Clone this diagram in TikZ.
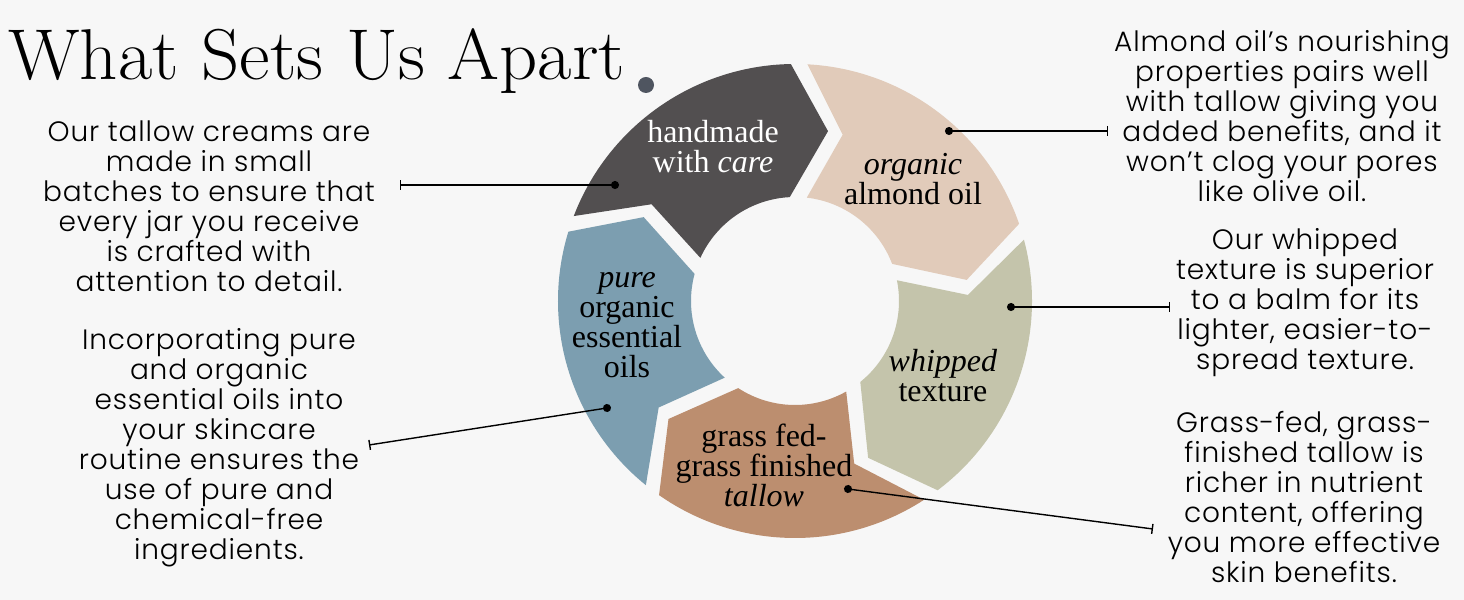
\documentclass[tikz,border=0pt]{standalone}
\usepackage{fontspec}
\setmainfont{Liberation Serif}
\newfontfamily\bodyfont{Poppins Light}[LetterSpace=3]
\newfontfamily\titlefont{Latin Modern Roman}
\usetikzlibrary{arrows.meta}

\definecolor{bgcol}{HTML}{F7F7F7}
\definecolor{dotcol}{HTML}{4F5560}
\definecolor{carecol}{HTML}{524F50}
\definecolor{almondcol}{HTML}{E1CBBA}
\definecolor{whipcol}{HTML}{C4C4AB}
\definecolor{tallowcol}{HTML}{BC8E6F}
\definecolor{oilcol}{HTML}{7C9EB0}

\tikzset{
  blurb/.style={font=\bodyfont\fontsize{14}{15}\selectfont, align=center, anchor=base, inner sep=0pt},
  seglabel/.style={font=\fontsize{16}{15}\selectfont, align=center, anchor=base, inner sep=0pt},
  link/.style={{Circle[length=4pt]}-{Bar[width=5pt]}, line width=0.7pt, shorten <=-2pt},
}

\begin{document}
\begin{tikzpicture}[x=0.5pt,y=0.5pt]

  % Background and page size
  \useasboundingbox (0,0) rectangle (1464,600);
  \fill[bgcol] (0,0) rectangle (1464,600);

  % Title
  \node[anchor=base west, inner sep=0pt, xscale=1.04, font=\titlefont\fontsize{36}{36}\selectfont] (title) at (8,520) {What Sets Us Apart};
  \fill[dotcol] (646,515) circle (8);

  % The five arrow segments of the ring
  \begin{scope}[shift={(795,299)}]
    \fill[carecol] (159:237) arc[start angle=159, end angle=91, radius=237] -- (79:173)
      -- (92.9:104) arc[start angle=92.9, end angle=155.5, radius=104] -- (146:173) -- cycle;
    \fill[almondcol] (87:237) arc[start angle=87, end angle=19, radius=237] -- (7:173)
      -- (20.9:104) arc[start angle=20.9, end angle=83.5, radius=104] -- (74:173) -- cycle;
    \fill[whipcol] (15:237) arc[start angle=15, end angle=-53, radius=237] -- (-65:173)
      -- (-51.1:104) arc[start angle=-51.1, end angle=11.5, radius=104] -- (2:173) -- cycle;
    \fill[tallowcol] (-57:237) arc[start angle=-57, end angle=-125, radius=237] -- (-137:173)
      -- (-123.1:104) arc[start angle=-123.1, end angle=-60.5, radius=104] -- (-70:173) -- cycle;
    \fill[oilcol] (-129:237) arc[start angle=-129, end angle=-197, radius=237] -- (-209:173)
      -- (-195.1:104) arc[start angle=-195.1, end angle=-132.5, radius=104] -- (-142:173) -- cycle;
  \end{scope}

  % Labels on the segments (placed at the baseline of their last line)
  \node[seglabel, text=white] (care) at (713,427) {handmade\\with \textit{care}};
  \node[seglabel] (almond) at (913,395) {\textit{organic}\\almond oil};
  \node[seglabel] (whipped) at (943,198) {\textit{whipped}\\texture};
  \node[seglabel] (tallow) at (764,93) {grass fed-\\grass finished\\\textit{tallow}};
  \node[seglabel] (oils) at (627,222) {\textit{pure}\\organic\\essential\\oils};

  % Text blocks on the left
  \node[blurb] (txt-care) at (209,308) {Our tallow creams are\\made in small\\batches to ensure that\\every jar you receive\\is crafted with\\attention to detail.};
  \node[blurb] (txt-oils) at (219,40) {Incorporating pure\\and organic\\essential oils into\\your skincare\\routine ensures the\\use of pure and\\chemical-free\\ingredients.};

  % Text blocks on the right
  \node[blurb] (txt-almond) at (1282,398) {Almond oil’s nourishing\\properties pairs well\\with tallow giving you\\added benefits, and it\\won’t clog your pores\\like olive oil.};
  \node[blurb] (txt-whipped) at (1305,230) {Our whipped\\texture is superior\\to a balm for its\\lighter, easier-to-\\spread texture.};
  \node[blurb] (txt-tallow) at (1304,17) {Grass-fed, grass-\\finished tallow is\\richer in nutrient\\content, offering\\you more effective\\skin benefits.};

  % Ends of the pointer lines
  \coordinate (dot-care) at (615,415);
  \coordinate (end-care) at (400,415);
  \coordinate (dot-oils) at (607,192);
  \coordinate (end-oils) at (369,155);
  \coordinate (dot-almond) at (949,469);
  \coordinate (end-almond) at (1108,469);
  \coordinate (dot-whipped) at (1011,293);
  \coordinate (end-whipped) at (1170,293);
  \coordinate (dot-tallow) at (848,111);
  \coordinate (end-tallow) at (1153,71);

  % Pointer lines
  \draw[link] (dot-care) -- (end-care);
  \draw[link] (dot-oils) -- (end-oils);
  \draw[link] (dot-almond) -- (end-almond);
  \draw[link] (dot-whipped) -- (end-whipped);
  \draw[link] (dot-tallow) -- (end-tallow);

\end{tikzpicture}
\end{document}
